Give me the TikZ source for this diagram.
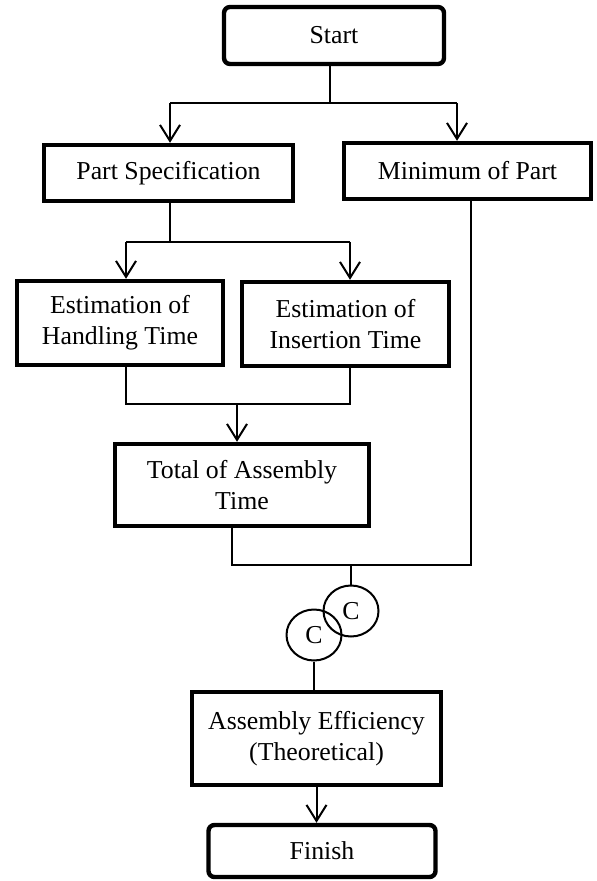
\documentclass[tikz,border=0pt]{standalone}
\usepackage{fontspec}
\setmainfont{Liberation Serif}
\usepackage{tikz}
\usetikzlibrary{shapes.geometric, arrows.meta, positioning, calc}
\newcommand{\chartfont}{\fontsize{12.9}{15.5}\selectfont}
\tikzset{
  termbox/.style={rectangle, draw, rounded corners=3pt, line width=2.2pt,
    align=center, font=\chartfont, inner sep=0pt},
  procbox/.style={rectangle, draw, line width=2.2pt,
    align=center, font=\chartfont, inner sep=0pt},
  connode/.style={ellipse, draw, line width=1pt, minimum width=27.5pt,
    minimum height=25.5pt, inner sep=0pt, font=\chartfont},
  arrow/.style={-{Straight Barb[length=8pt,width=10pt]}, line width=1pt},
  line/.style={line width=1pt}
}

\begin{document}
\begin{tikzpicture}[x=0.5pt, y=-0.5pt]
  \useasboundingbox (0,0) rectangle (597,881);

  % Boxes
  \node[termbox, minimum width=110pt, minimum height=28.5pt] (start) at (334,35.5) {Start};
  \node[procbox, minimum width=124.5pt, minimum height=28pt] (spec) at (168.5,173) {Part Specification};
  \node[procbox, minimum width=123.5pt, minimum height=28pt] (minpart) at (467.5,171) {Minimum of Part};
  \node[procbox, minimum width=103pt, minimum height=42pt] (handling) at (120,323) {Estimation of\\Handling Time};
  \node[procbox, minimum width=103.5pt, minimum height=42pt] (insertion) at (345.5,324) {Estimation of\\Insertion Time};
  \node[procbox, minimum width=127pt, minimum height=41pt] (total) at (242,485) {Total of Assembly\\Time};
  \node[procbox, minimum width=124.5pt, minimum height=46.5pt] (effic) at (316.5,738.5) {Assembly Efficiency\\(Theoretical)};
  \node[termbox, minimum width=113.5pt, minimum height=26pt] (finish) at (322,851) {Finish};

  % Connectors (C)
  \node[connode] (c1) at (351,611) {C};
  \node[connode] (c2) at (314,635) {C};

  % Start -> Part Specification / Minimum of Part
  \coordinate (j1) at (330,103);
  \coordinate (j1l) at (170,103);
  \coordinate (j1r) at (457,103);
  \draw[line] (start.south -| j1) -- (j1);
  \draw[line] (j1l) -- (j1r);
  \draw[arrow] (j1l) -- (j1l |- spec.north);
  \draw[arrow] (j1r) -- (j1r |- minpart.north);

  % Part Specification -> estimations
  \coordinate (j2) at (170,242);
  \coordinate (j2l) at (126,242);
  \coordinate (j2r) at (350,242);
  \draw[line] (spec.south -| j2) -- (j2);
  \draw[line] (j2l) -- (j2r);
  \draw[arrow] (j2l) -- (j2l |- handling.north);
  \draw[arrow] (j2r) -- (j2r |- insertion.north);

  % Estimations -> Total of Assembly Time
  \coordinate (j3) at (237,404);
  \coordinate (j3l) at (126,404);
  \coordinate (j3r) at (350,404);
  \draw[line] (j3l |- handling.south) -- (j3l) -- (j3r) -- (j3r |- insertion.south);
  \draw[arrow] (j3) -- (j3 |- total.north);

  % Total and Minimum -> C
  \coordinate (j4) at (351,565);
  \coordinate (j4l) at (232,565);
  \coordinate (j4r) at (471,565);
  \draw[line] (j4l |- total.south) -- (j4l) -- (j4r) -- (j4r |- minpart.south);
  \draw[line] (j4) -- (c1.north);

  % C -> Efficiency -> Finish
  \draw[line] (c2.south) -- (c2.south |- effic.north);
  \draw[arrow] (effic.south) -- (effic.south |- finish.north);
\end{tikzpicture}
\end{document}
